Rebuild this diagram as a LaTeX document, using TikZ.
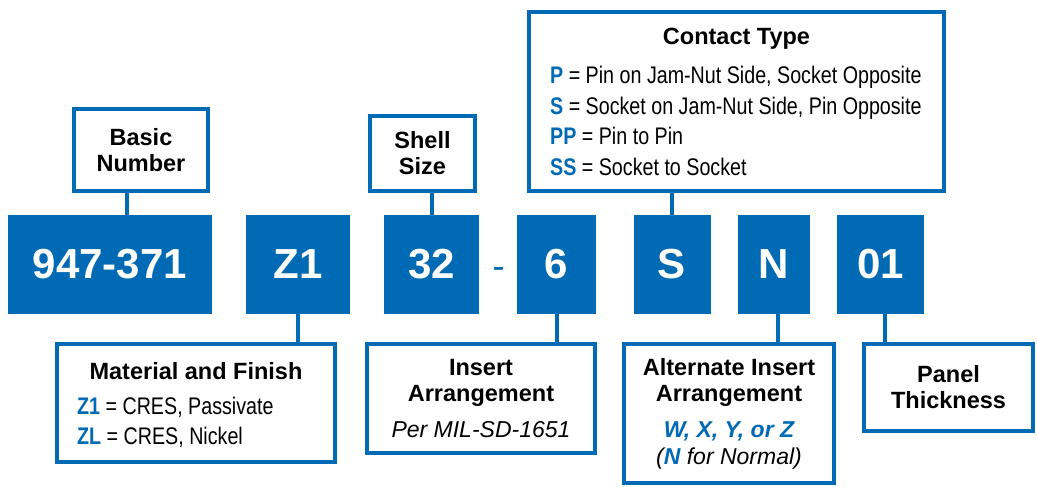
\documentclass[tikz,border=0pt]{standalone}
\usepackage{fontspec}
\setmainfont{Liberation Sans}
\newfontfamily\narrowfont[FakeStretch=0.82]{Liberation Sans}
\definecolor{partblue}{RGB}{0,106,180}
\newcommand\titlefont{\fontsize{23.5}{26}\selectfont\bfseries}
\newcommand\listfont{\narrowfont\fontsize{24}{30.5}\selectfont}
\newcommand\noteit{\fontsize{23}{26}\selectfont\mdseries\itshape}
\newcommand\partkey[1]{\textbf{\textcolor{partblue}{#1}}}
\tikzset{
  code/.style={fill=partblue, text=white, inner sep=0pt, minimum height=99pt,
    font=\fontsize{42}{42}\selectfont\bfseries},
  infobox/.style={draw=partblue, line width=4pt, fill=white, inner sep=0pt,
    align=center, font=\titlefont},
  link/.style={draw=partblue, line width=4pt},
}
\begin{document}
\begin{tikzpicture}[x=1pt,y=-1pt]
  \useasboundingbox (0,0) rectangle (1037,487);
  % part number fields
  \node[code, minimum width=204pt] (basicnum) at (110,264.5) {947-371};
  \node[code, minimum width=104pt] (finish) at (298,264.5) {Z1};
  \node[code, minimum width=95pt] (shellsz) at (431.5,264.5) {32};
  \node[text=partblue, font=\fontsize{36}{36}\selectfont] (dash) at (498.5,273) {-};
  \node[code, minimum width=79pt] (insarr) at (556.5,264.5) {6};
  \node[code, minimum width=77pt] (contact) at (672,264.5) {S};
  \node[code, minimum width=72pt] (altins) at (774,264.5) {N};
  \node[code, minimum width=87pt] (panel) at (880.5,264.5) {01};
  % upper legends
  \node[infobox, minimum width=134pt, minimum height=82pt] (basicbox) at (141,150) {Basic\\Number};
  \node[infobox, minimum width=105pt, minimum height=75pt] (shellbox) at (422.5,153.5) {Shell\\Size};
  \node[infobox, minimum width=415pt, minimum height=179pt] (contactbox) at (736.5,101.5) {};
  \node[font=\titlefont] (contacttitle) at (736.5,39) {Contact Type};
  \node[anchor=west, align=left, font=\listfont, inner sep=0pt] (contactlist) at (550,121)
    {\partkey{P} = Pin on Jam-Nut Side, Socket Opposite\\
     \partkey{S} = Socket on Jam-Nut Side, Pin Opposite\\
     \partkey{PP} = Pin to Pin\\
     \partkey{SS} = Socket to Socket};
  % lower legends
  \node[infobox, minimum width=278pt, minimum height=118pt] (finishbox) at (196,403) {};
  \node[font=\titlefont] (finishtitle) at (196,371) {Material and Finish};
  \node[anchor=west, align=left, font=\listfont, inner sep=0pt] (finishlist) at (77,422.5)
    {\partkey{Z1} = CRES, Passivate\\
     \partkey{ZL} = CRES, Nickel};
  \node[infobox, minimum width=228pt, minimum height=109pt] (insbox) at (481,398.5)
    {Insert\\Arrangement\\[10pt]{\noteit Per MIL-SD-1651}};
  \node[infobox, minimum width=210pt, minimum height=139pt] (altbox) at (729,413.5)
    {Alternate Insert\\Arrangement\\[10pt]{\noteit\bfseries\color{partblue}W, X, Y, or Z}\\[1pt]{\noteit (\textbf{\textcolor{partblue}{N}} for Normal)}};
  \node[infobox, minimum width=169pt, minimum height=87pt] (panelbox) at (948.5,387.5) {Panel\\Thickness};
  % connectors
  \begin{scope}[link]
    \draw ([xshift=17pt]basicnum.north) -- ([xshift=17pt]basicnum.north |- basicbox.south);
    \draw (shellsz.north) -- (shellsz.north |- shellbox.south);
    \draw (contact.north) -- (contact.north |- contactbox.south);
    \draw (finish.south) -- (finish.south |- finishbox.north);
    \draw (insarr.south) -- (insarr.south |- insbox.north);
    \draw ([xshift=4pt]altins.south) -- ([xshift=4pt]altins.south |- altbox.north);
    \draw ([xshift=4pt]panel.south) -- ([xshift=4pt]panel.south |- panelbox.north);
  \end{scope}
\end{tikzpicture}
\end{document}
